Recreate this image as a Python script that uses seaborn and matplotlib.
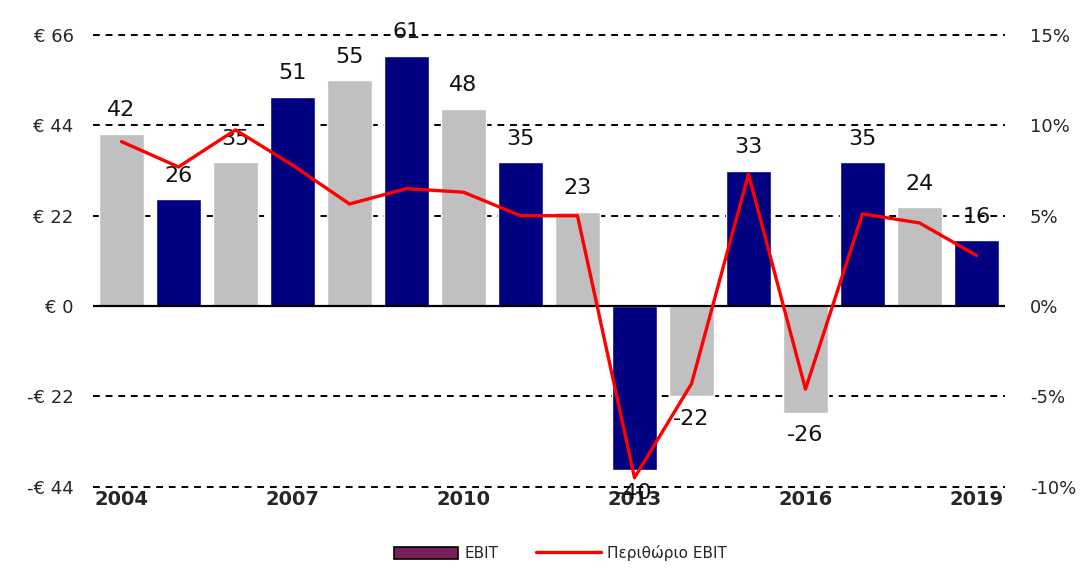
import matplotlib
matplotlib.use("Agg")
import matplotlib.pyplot as plt
import numpy as np
import pandas as pd
import seaborn as sns
from matplotlib.patches import Patch
from matplotlib.lines import Line2D

years = [str(y) for y in range(2004, 2020)]
ebit = [42, 26, 35, 51, 55, 61, 48, 35, 23, -40, -22, 33, -26, 35, 24, 16]
margin = [9.1, 7.7, 9.75, 7.8, 5.65, 6.5, 6.3, 5.0, 5.0, -9.5, -4.3, 7.3, -4.6, 5.1, 4.6, 2.8]
left_ticks = [-44, -22, 0, 22, 44, 66]
left_labels = ["-€ 44", "-€ 22", "€ 0", "€ 22", "€ 44", "€ 66"]
right_ticks = [-10, -5, 0, 5, 10, 15]
right_labels = ["-10%", "-5%", "0%", "5%", "10%", "15%"]
shown_years = ["2004", "2007", "2010", "2013", "2016", "2019"]

NAVY = "#000080"
GRAY = "#C0C0C0"
bar_colors = [GRAY if i % 2 == 0 else NAVY for i in range(len(years))]

sns.set_style("white")
plt.rcParams["font.family"] = ["DejaVu Sans"]

df = pd.DataFrame({"year": years, "ebit": ebit, "margin": margin})

fig = plt.figure(figsize=(10.88, 5.72), dpi=100)
ax = fig.add_axes([0.0855, 0.149, 0.8382, 0.7898])

sns.barplot(data=df, x="year", y="ebit", hue="year", palette=bar_colors,
            legend=False, width=0.8, saturation=1, ax=ax)
ax.set_ylim(-44, 66)
ax.set_xlim(-0.5, len(years) - 0.5)

# dashed grid, solid zero line
for y in [-44, -22, 22, 44, 66]:
    ax.axhline(y, color="black", lw=1.4, ls=(0, (3.5, 3)), zorder=0.5, clip_on=False)
ax.axhline(0, color="black", lw=1.6, zorder=3)

for i, v in enumerate(ebit):
    off = 17 if v >= 0 else -16
    ax.annotate(str(v), (i, v), xytext=(0, off), textcoords="offset points",
                ha="center", va="center", fontsize=16, color="#111111", zorder=6)

ax.set_yticks(left_ticks)
ax.set_yticklabels(left_labels, fontsize=13)
ax.set_xticks([years.index(y) for y in shown_years])
ax.set_xticklabels(shown_years, fontsize=14, fontweight="bold")
ax.tick_params(axis="both", length=0)
ax.tick_params(axis="y", pad=14)
ax.tick_params(axis="x", pad=2)
ax.set_xlabel("")
ax.set_ylabel("")
sns.despine(ax=ax, left=True, bottom=True)

ax2 = ax.twinx()
sns.lineplot(x=np.arange(len(years)), y=margin, color="#FF0000", lw=2.4,
             ax=ax2, zorder=5)
ax2.set_ylim(-10, 15)
ax2.set_yticks(right_ticks)
ax2.set_yticklabels(right_labels, fontsize=13)
ax2.tick_params(axis="y", length=0, pad=18)
for s in ax2.spines.values():
    s.set_visible(False)

handles = [Patch(facecolor="#7B1F5A", edgecolor="black", lw=1.2, label="EBIT"),
           Line2D([0], [0], color="#FF0000", lw=2.4, label="Περιθώριο EBIT")]
fig.legend(handles=handles, loc="center", bbox_to_anchor=(0.515, 0.033), ncol=2,
           frameon=False, fontsize=11, handlelength=4.2, handleheight=0.9,
           columnspacing=2.5, handletextpad=0.4)

fig.savefig("out.png", dpi=100)
